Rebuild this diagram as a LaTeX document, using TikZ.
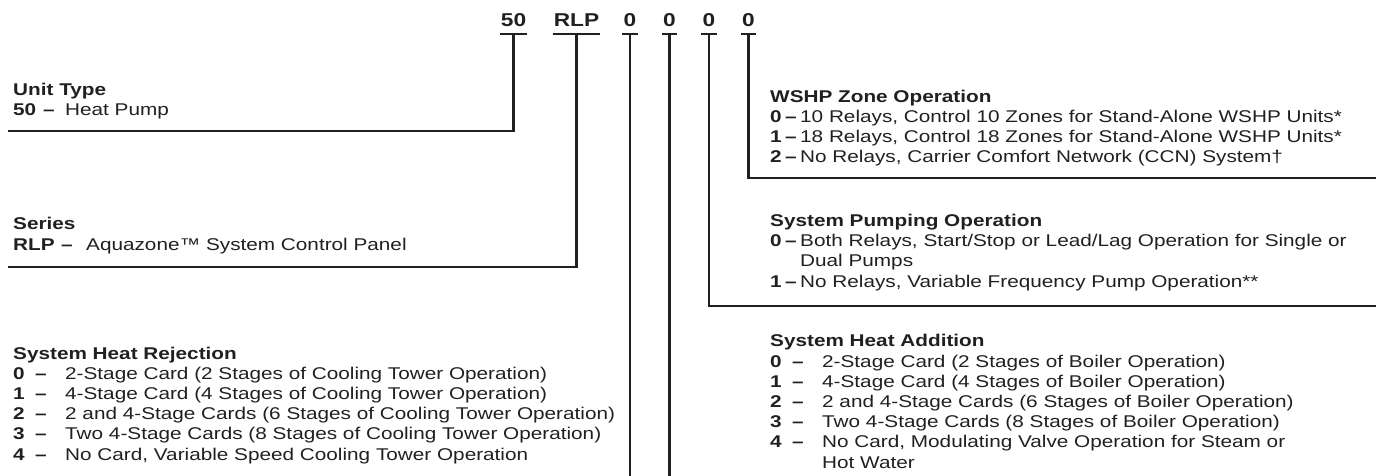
\documentclass[tikz,border=0pt]{standalone}
\usepackage{fontspec}
\setmainfont[FakeStretch=1.22]{Liberation Sans}
\usetikzlibrary{positioning}

\definecolor{ink}{HTML}{231F20}
\newlength{\numw}
\newlength{\dashw}
\newcommand{\opt}[2]{\makebox[\numw][l]{\bfseries #1}\makebox[\dashw][l]{\bfseries –}#2}
\newcommand{\cont}[1]{\hspace*{\numw}\hspace*{\dashw}#1}

\tikzset{
  code/.style={font=\bfseries\fontsize{18.6}{19}\selectfont, text=ink, inner xsep=1pt, inner ysep=7.6pt, anchor=south},
  bar/.style={draw=ink, line width=2.2pt},
  link/.style={draw=ink, line width=2.2pt},
  % anchor base = baseline of the last line
  block/.style={anchor=base west, align=left, inner sep=0pt, text=ink, font=\fontsize{17}{20.2}\selectfont},
  gap/.code 2 args={\setlength{\numw}{#1pt}\setlength{\dashw}{#2pt}}
}

\begin{document}
\begin{tikzpicture}[x=1pt,y=-1pt]
  \useasboundingbox (0,0) rectangle (1376,476);

  % model number
  \node[code] (c50) at (513.5,34.3) {50};
  \node[code] (cRLP) at (576.5,34.3) {RLP};
  \node[code] (cA) at (630,34.3) {0};
  \node[code] (cB) at (669.5,34.3) {0};
  \node[code] (cC) at (709,34.3) {0};
  \node[code] (cD) at (748.5,34.3) {0};
  \foreach \c in {c50,cRLP,cA,cB,cC,cD}
    \draw[bar] (\c.south west) -- (\c.south east);

  % left side
  \node[block, gap={30}{22}] (unit) at (13,116) {\textbf{Unit Type}\\
    \opt{50}{Heat Pump}};
  \node[block, gap={48}{25}] (series) at (13,250) {\textbf{Series}\\
    \opt{RLP}{Aquazone™ System Control Panel}};
  \node[block, gap={22}{30}] (reject) at (13,460) {\textbf{System Heat Rejection}\\
    \opt{0}{2-Stage Card (2 Stages of Cooling Tower Operation)}\\
    \opt{1}{4-Stage Card (4 Stages of Cooling Tower Operation)}\\
    \opt{2}{2 and 4-Stage Cards (6 Stages of Cooling Tower Operation)}\\
    \opt{3}{Two 4-Stage Cards (8 Stages of Cooling Tower Operation)}\\
    \opt{4}{No Card, Variable Speed Cooling Tower Operation}};

  % right side
  \node[block, gap={15}{15}] (zone) at (770,163) {\textbf{WSHP Zone Operation}\\
    \opt{0}{10 Relays, Control 10 Zones for Stand-Alone WSHP Units*}\\
    \opt{1}{18 Relays, Control 18 Zones for Stand-Alone WSHP Units*}\\
    \opt{2}{No Relays, Carrier Comfort Network (CCN) System†}};
  \node[block, gap={15}{15}] (pumping) at (770,287) {\textbf{System Pumping Operation}\\
    \opt{0}{Both Relays, Start/Stop or Lead/Lag Operation for Single or}\\
    \cont{Dual Pumps}\\
    \opt{1}{No Relays, Variable Frequency Pump Operation**}};
  \node[block, gap={22}{30}] (addition) at (770,468) {\textbf{System Heat Addition}\\
    \opt{0}{2-Stage Card (2 Stages of Boiler Operation)}\\
    \opt{1}{4-Stage Card (4 Stages of Boiler Operation)}\\
    \opt{2}{2 and 4-Stage Cards (6 Stages of Boiler Operation)}\\
    \opt{3}{Two 4-Stage Cards (8 Stages of Boiler Operation)}\\
    \opt{4}{No Card, Modulating Valve Operation for Steam or}\\
    \cont{Hot Water}};

  % connectors
  \coordinate (unitend) at (8,131);
  \coordinate (seriesend) at (8,267);
  \coordinate (zoneend) at (1376,178);
  \coordinate (pumpend) at (1376,306);
  \coordinate (bottom) at (0,476);
  \draw[link] (c50.south) |- (unitend);
  \draw[link] (cRLP.south) |- (seriesend);
  \draw[link] (cD.south) |- (zoneend);
  \draw[link] (cC.south) |- (pumpend);
  \draw[link] (cA.south) -- (cA.south |- bottom);
  \draw[link] (cB.south) -- (cB.south |- bottom);
\end{tikzpicture}
\end{document}
